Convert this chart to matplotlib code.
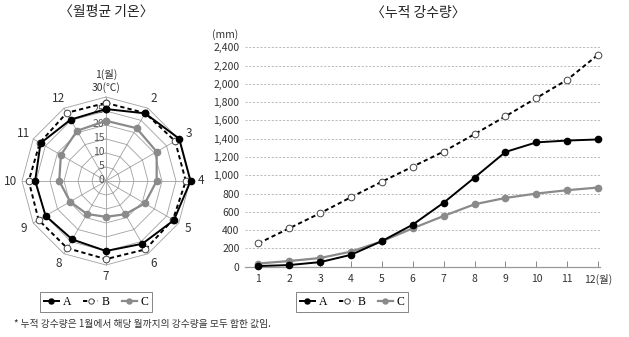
import numpy as np
import matplotlib
matplotlib.use("Agg")
import matplotlib.pyplot as plt
from matplotlib.ticker import FuncFormatter

plt.rcParams['font.family'] = ['Noto Sans CJK KR', 'DejaVu Sans']

# data
months = list(range(1, 13))
month_labels = ['1', '2', '3', '4', '5', '6', '7', '8', '9', '10', '11', '12(월)']
series = ['A', 'B', 'C']

# monthly mean temperature (deg C)
temp_a = [25.7, 27.9, 30.2, 30.2, 28.0, 25.9, 25.0, 24.1, 24.9, 25.3, 27.0, 25.3]
temp_b = [27.9, 28.0, 28.5, 28.5, 27.6, 28.2, 27.9, 27.7, 27.8, 27.6, 27.3, 28.1]
temp_c = [21.5, 21.8, 20.9, 18.1, 16.0, 13.7, 12.8, 13.6, 14.8, 16.7, 18.6, 20.7]

# cumulative precipitation (mm)
rain_a = [7, 18, 50, 130, 280, 460, 700, 975, 1255, 1360, 1380, 1392]
rain_b = [255, 420, 585, 760, 930, 1095, 1260, 1450, 1645, 1845, 2045, 2320]
rain_c = [35, 62, 95, 165, 278, 420, 555, 683, 752, 800, 837, 866]

W, H = 629, 337
fig = plt.figure(figsize=(W / 100, H / 100), dpi=100)

grey = '#8a8a8a'
styles = {
    'A': dict(color='black', lw=1.4, ls='-', marker='o', ms=4.5, mfc='black', mec='black'),
    'B': dict(color='black', lw=1.4, ls=(0, (2.2, 1.6)), marker='o', ms=4.8, mfc='white', mec='#444', mew=0.7),
    'C': dict(color=grey, lw=1.6, ls='-', marker='o', ms=4.5, mfc=grey, mec=grey),
}

# ---------------- radar (monthly temperature) ----------------
cx, cy = 106, H - 181   # centre in pixels
scale = 84 / 30         # px per deg
half = 37
side = 2 * half * scale
ax1 = fig.add_axes([(cx - side / 2) / W, (cy - side / 2) / H, side / W, side / H])
ax1.set_xlim(-half, half)
ax1.set_ylim(-half, half)
ax1.axis('off')

theta = np.deg2rad(np.arange(12) * 30)
def xy(r):
    r = np.asarray(r, dtype=float)
    return r * np.sin(theta), r * np.cos(theta)

gc = '#a0a0a0'
for v in range(5, 31, 5):
    x, y = xy([v] * 12)
    ax1.plot(np.append(x, x[0]), np.append(y, y[0]), color=gc, lw=0.6, zorder=1)
for t in theta:
    ax1.plot([0, 30 * np.sin(t)], [0, 30 * np.cos(t)], color=gc, lw=0.6, zorder=1)

for v in range(0, 30, 5):
    ax1.text(-0.6, v + 0.5, str(v), ha='right', va='center', fontsize=7.5,
             color='#555555', zorder=2)
ax1.text(0, 33.4, '30(℃)', ha='center', va='center', fontsize=7.5, color='#333333')
ax1.text(0, 38.2, '1(월)', ha='center', va='center', fontsize=7.5, color='#333333')
for i in range(1, 12):
    ax1.text(34 * np.sin(theta[i]), 34 * np.cos(theta[i]), str(i + 1),
             ha='center', va='center', fontsize=8.5, color='#333333')

for name, vals in [('C', temp_c), ('B', temp_b), ('A', temp_a)]:
    x, y = xy(vals)
    ax1.plot(np.append(x, x[0]), np.append(y, y[0]), zorder=3, **styles[name])

ax1.text(0, 60.5, '〈월평균 기온〉', ha='center', va='center', fontsize=10, color='#222222')

# ---------------- cumulative precipitation ----------------
x0, x1 = 245, 600
y0, y1 = H - 266.7, H - 47.3
ax2 = fig.add_axes([x0 / W, y0 / H, (x1 - x0) / W, (y1 - y0) / H])
ax2.set_xlim(0.57, 12.06)
ax2.set_ylim(0, 2400)
ax2.set_yticks(range(0, 2401, 200))
ax2.set_xticks(months)
ax2.set_xticklabels(month_labels)
ax2.yaxis.set_major_formatter(FuncFormatter(lambda v, p: f'{int(v):,}'))
for s in ['left', 'right', 'top']:
    ax2.spines[s].set_visible(False)
ax2.spines['bottom'].set_color('#999999')
ax2.spines['bottom'].set_linewidth(0.9)
ax2.tick_params(axis='y', length=0, labelsize=7.5, labelcolor='#333333', pad=4)
ax2.tick_params(axis='x', direction='in', length=4, color='#888888', width=0.7,
                labelsize=7.5, labelcolor='#333333', pad=5)
for v in range(200, 2401, 200):
    ax2.axhline(v, color='#b0b0b0', lw=0.6, ls=(0, (2.5, 2)), zorder=1)

handles = []
for name, vals in [('C', rain_c), ('B', rain_b), ('A', rain_a)]:
    ln, = ax2.plot(months, vals, zorder=3, clip_on=False, label=name, **styles[name])
    handles.append(ln)
handles = handles[::-1]

ax2.text(-0.055, 1.056, '(mm)', transform=ax2.transAxes, ha='center', va='center',
         fontsize=7.5, color='#333333')
fig.text(418 / W, 1 - 13 / H, '〈누적 강수량〉', ha='center', va='center',
         fontsize=10, color='#222222')

# legends
for xc in [96 / W, 352 / W]:
    leg = fig.legend(handles, series, loc='center', bbox_to_anchor=(xc, 1 - 302 / H),
                     ncol=3, frameon=True, fancybox=False, edgecolor='#666666',
                     handlelength=1.3, handletextpad=0.3, columnspacing=1.0,
                     borderpad=0.3, borderaxespad=0,
                     prop={'family': 'Liberation Serif', 'size': 8.5},
                     numpoints=1, markerscale=0.8)
    leg.get_frame().set_linewidth(0.7)

fig.text(14 / W, 1 - 324 / H, '* 누적 강수량은 1월에서 해당 월까지의 강수량을 모두 합한 값임.',
         ha='left', va='center', fontsize=7, color='#333333')

fig.savefig('out.png', dpi=100)
